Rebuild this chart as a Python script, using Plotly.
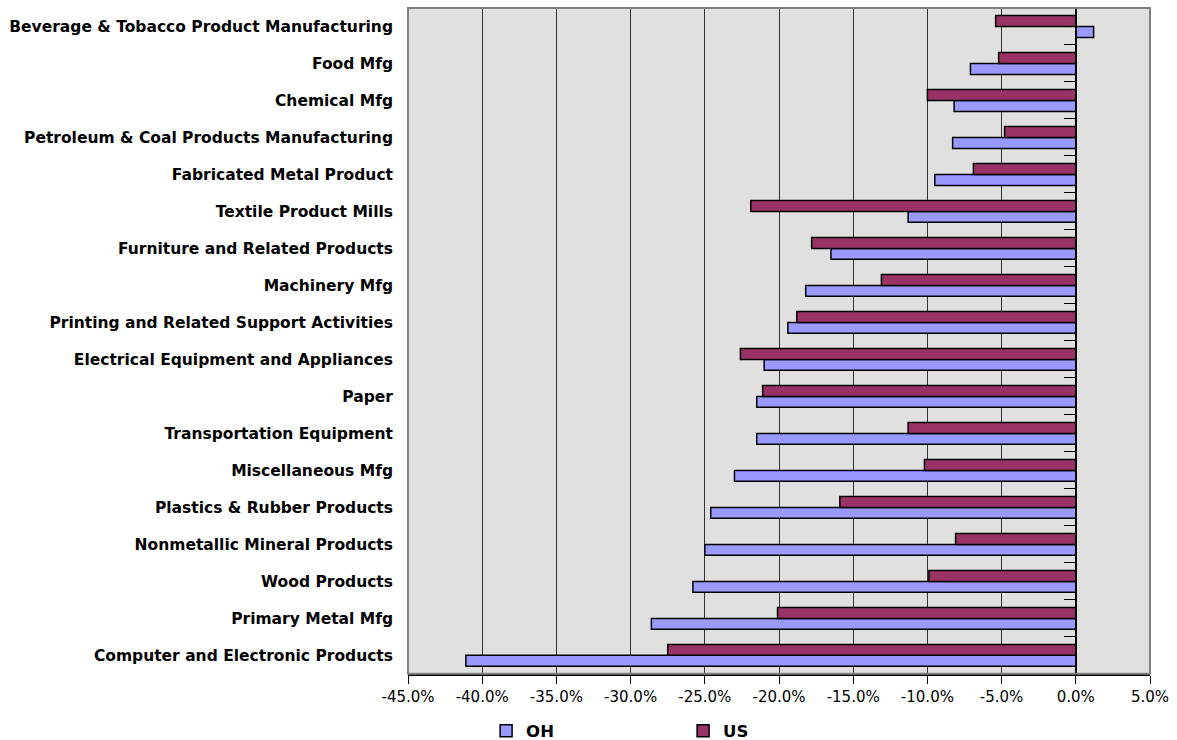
import plotly.graph_objects as go

# Industries, listed top to bottom as they appear on the chart
industries = [
    "Beverage & Tobacco Product Manufacturing",
    "Food Mfg",
    "Chemical Mfg",
    "Petroleum & Coal Products Manufacturing",
    "Fabricated Metal Product",
    "Textile Product Mills",
    "Furniture and Related Products",
    "Machinery Mfg",
    "Printing and Related Support Activities",
    "Electrical Equipment and Appliances",
    "Paper",
    "Transportation Equipment",
    "Miscellaneous Mfg",
    "Plastics & Rubber Products",
    "Nonmetallic Mineral Products",
    "Wood Products",
    "Primary Metal Mfg",
    "Computer and Electronic Products",
]

# Percent change in employment, same order as industries
oh_change = [1.2, -7.1, -8.2, -8.3, -9.5, -11.3, -16.5, -18.2, -19.4, -21.0,
             -21.5, -21.5, -23.0, -24.6, -25.0, -25.8, -28.6, -41.1]
us_change = [-5.4, -5.2, -10.0, -4.8, -6.9, -21.9, -17.8, -13.1, -18.8, -22.6,
             -21.1, -11.3, -10.2, -15.9, -8.1, -9.9, -20.1, -27.5]

x_ticks = [-45, -40, -35, -30, -25, -20, -15, -10, -5, 0, 5]
x_tick_text = [f"{v:.1f}%" for v in x_ticks]

# Plotly stacks horizontal categories bottom-up, so feed them reversed
cats = industries[::-1]
oh_vals = oh_change[::-1]
us_vals = us_change[::-1]
n = len(cats)

fig = go.Figure()
fig.add_trace(go.Bar(
    name="OH", y=cats, x=oh_vals, orientation="h",
    marker=dict(color="#9999FF", line=dict(color="#000000", width=1.5)),
))
fig.add_trace(go.Bar(
    name="US", y=cats, x=us_vals, orientation="h",
    marker=dict(color="#993366", line=dict(color="#000000", width=1.5)),
))
# invisible carrier so the boundary-tick axis along zero is drawn
fig.add_trace(go.Scatter(
    x=oh_vals, y=list(range(n)), yaxis="y2", mode="markers",
    marker=dict(opacity=0), showlegend=False, hoverinfo="skip",
))

zero_pos = (0 - x_ticks[0]) / (x_ticks[-1] - x_ticks[0])

fig.update_layout(
    width=1177, height=740,
    margin=dict(l=408, r=25, t=8, b=64, pad=0),
    paper_bgcolor="white",
    plot_bgcolor="#E0E0E0",
    barmode="group",
    bargap=0.41,
    bargroupgap=0,
    font=dict(family="DejaVu Sans", color="black"),
    xaxis=dict(
        range=[x_ticks[0], x_ticks[-1]],
        tickvals=x_ticks, ticktext=x_tick_text,
        ticks="outside", ticklen=8, tickcolor="black", tickwidth=1,
        tickfont=dict(family="DejaVu Sans", size=15, color="black"),
        showgrid=True, gridcolor="#333333", gridwidth=1,
        zeroline=True, zerolinecolor="black", zerolinewidth=1.5,
        showline=True, linecolor="black", linewidth=1.5,
        fixedrange=True,
    ),
    yaxis=dict(
        type="category",
        range=[-0.5, n - 0.5],
        ticks="", showgrid=False, zeroline=False, showline=False,
        ticklabelstandoff=14,
        tickfont=dict(family="DejaVu Sans", size=15.5, color="black", weight="bold"),
        fixedrange=True,
    ),
    # category-boundary tick marks drawn along the zero line
    yaxis2=dict(
        overlaying="y", anchor="free", position=zero_pos, side="left",
        range=[-0.5, n - 0.5], tickmode="linear", tick0=-0.5, dtick=1,
        ticks="outside", ticklen=11, tickcolor="black", tickwidth=1.2,
        showticklabels=False, showgrid=False, zeroline=False,
        showline=True, linecolor="black", linewidth=1.5,
        fixedrange=True,
    ),
    legend=dict(
        orientation="h",
        xref="container", yref="container",
        x=0.413, xanchor="left",
        y=0.012, yanchor="middle",
        font=dict(family="DejaVu Sans", size=16.5, color="black", weight="bold"),
        entrywidth=152, entrywidthmode="pixels",
        itemwidth=30,
        bgcolor="rgba(0,0,0,0)",
    ),
    shapes=[dict(
        type="rect", xref="x domain", yref="y domain",
        x0=0, x1=1, y0=0, y1=1,
        line=dict(color="#808080", width=2), layer="above",
    )],
)

fig.write_html("out.html")
